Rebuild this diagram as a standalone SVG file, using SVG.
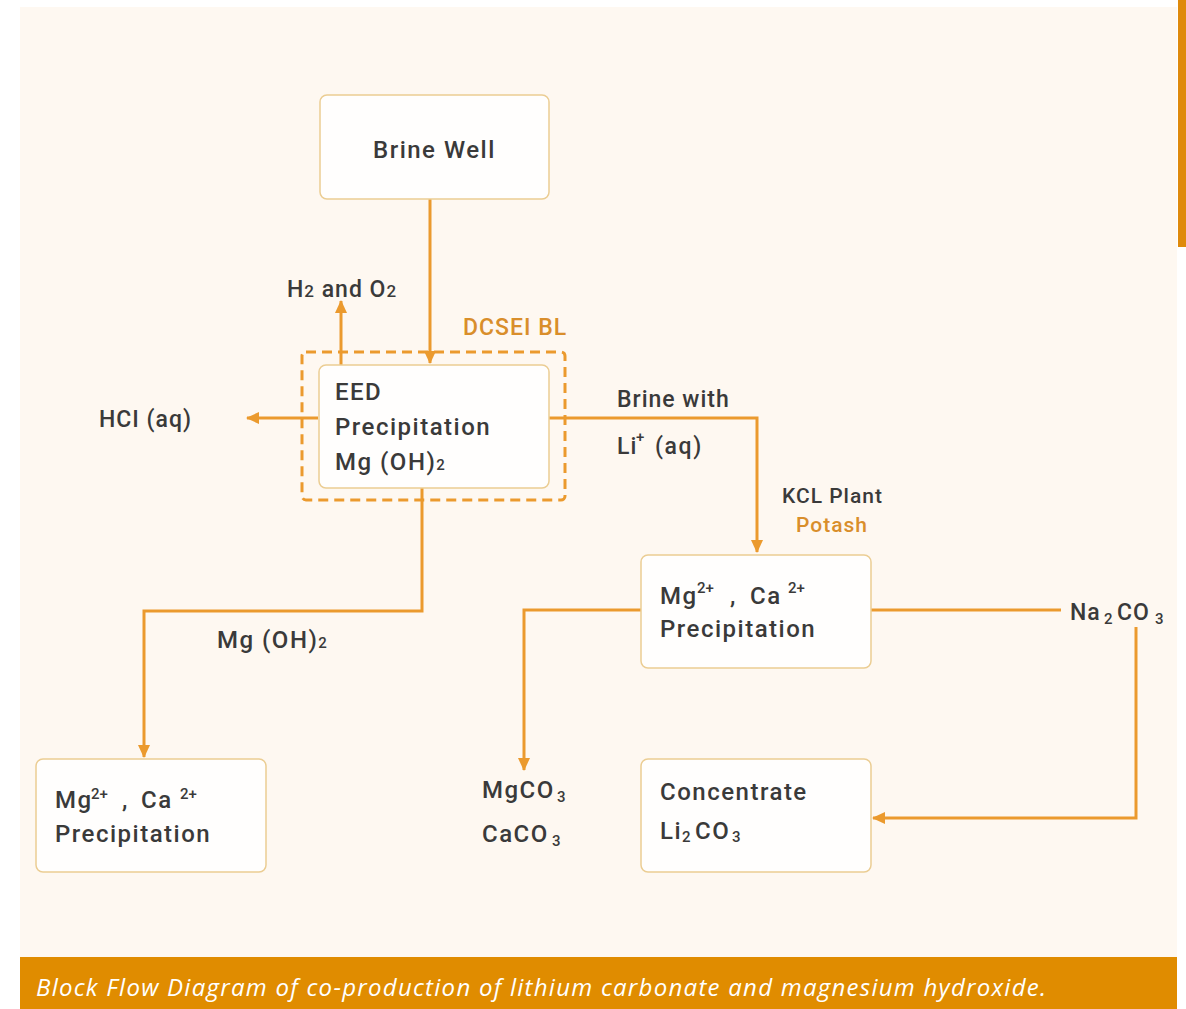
<svg xmlns="http://www.w3.org/2000/svg" width="1186" height="1009" viewBox="0 0 1186 1009">
<style>
.box{fill:#fffefd;stroke:#ebcd93;stroke-width:1.5}
.ln{fill:none;stroke:#eb9a2e;stroke-width:3}
.t{font-family:Roboto,"Liberation Sans",sans-serif;font-weight:500;font-size:24px;fill:#3a3a3a;letter-spacing:1.5px}
.l{font-family:Roboto,"Liberation Sans",sans-serif;font-weight:500;font-size:23px;fill:#3a3a3a;letter-spacing:1px}
.s{font-family:Roboto,"Liberation Sans",sans-serif;font-weight:500;font-size:21px;fill:#3a3a3a;letter-spacing:1px}
.sm{font-family:Roboto,"Liberation Sans",sans-serif;font-weight:500;font-size:15px;fill:#3a3a3a}
.o{fill:#d98e2b}
.cap{font-family:"Open Sans","Liberation Sans",sans-serif;font-style:italic;font-size:24px;fill:#ffffff}
</style>
<defs>
<marker id="ah" markerUnits="userSpaceOnUse" markerWidth="14" markerHeight="14" viewBox="0 0 14 14" refX="12" refY="7" orient="auto">
<path d="M0,1 L13,7 L0,13 Z" fill="#eb9a2e"/>
</marker>
</defs>
<rect x="0" y="0" width="1186" height="1009" fill="#ffffff"/>
<rect x="20" y="7" width="1157" height="950" fill="#fef8f1"/>
<rect x="1178" y="0" width="8" height="247" fill="#df8a0c"/>
<rect x="20" y="957" width="1157" height="52" fill="#e08c00"/>
<text class="cap" x="36" y="996" textLength="1010">Block Flow Diagram of co-production of lithium carbonate and magnesium hydroxide.</text>

<g id="connectors">
<path class="ln" d="M430,199 V363" marker-end="url(#ah)"/>
<path class="ln" d="M341,365 V301" marker-end="url(#ah)"/>
<path class="ln" d="M318,418 H247" marker-end="url(#ah)"/>
<path class="ln" d="M549,418 H757 V552" marker-end="url(#ah)"/>
<path class="ln" d="M422,488 V611 H144 V757" marker-end="url(#ah)"/>
<path class="ln" d="M641,610 H524 V770" marker-end="url(#ah)"/>
<path class="ln" d="M871,610 H1061"/>
<path class="ln" d="M1136,627 V818 H873" marker-end="url(#ah)"/>
</g>

<g id="brine-well">
<rect class="box" x="320" y="95" width="229" height="104" rx="7"/>
<text class="t" x="373" y="158">Brine Well</text>
</g>

<g id="dcsei-bl">
<rect x="302" y="352" width="263" height="148" rx="4" fill="none" stroke="#eb9a2e" stroke-width="3" stroke-dasharray="10 6"/>
<text class="l o" x="463" y="335">DCSEI BL</text>
</g>

<g id="eed">
<rect class="box" x="319" y="365" width="230" height="123" rx="7"/>
<text class="t" x="335" y="400">EED</text>
<text class="t" x="335" y="435">Precipitation</text>
<text class="t" x="335" y="470">Mg (OH)<tspan font-size="15px">2</tspan></text>
</g>

<g id="mid-precip">
<rect class="box" x="641" y="555" width="230" height="113" rx="7"/>
<text class="t" x="660" y="604">Mg</text>
<text class="sm" x="697" y="593">2+</text>
<text class="t" x="730" y="604">,</text>
<text class="t" x="750" y="604">Ca</text>
<text class="sm" x="788" y="593">2+</text>
<text class="t" x="660" y="637">Precipitation</text>
</g>

<g id="left-precip">
<rect class="box" x="36" y="759" width="230" height="113" rx="7"/>
<text class="t" x="55" y="808">Mg</text>
<text class="sm" x="91" y="799">2+</text>
<text class="t" x="122" y="808">,</text>
<text class="t" x="141" y="808">Ca</text>
<text class="sm" x="180" y="799">2+</text>
<text class="t" x="55" y="842">Precipitation</text>
</g>

<g id="concentrate">
<rect class="box" x="641" y="759" width="230" height="113" rx="7"/>
<text class="t" x="660" y="800">Concentrate</text>
<text class="t" x="660" y="839">Li</text>
<text class="sm" x="682" y="842" font-size="18px">2</text>
<text class="t" x="695" y="839">CO</text>
<text class="sm" x="732" y="842" font-size="18px">3</text>
</g>

<g id="labels">
<text class="l" x="287" y="297">H<tspan font-size="17px">2</tspan> and O<tspan font-size="17px">2</tspan></text>
<text class="l" x="99" y="427">HCI (aq)</text>
<text class="l" x="617" y="407">Brine with</text>
<text class="l" x="617" y="454">Li</text>
<text class="sm" x="636" y="442" font-size="13px">+</text>
<text class="l" x="655" y="454" style="letter-spacing:1.6px">(aq)</text>
<text class="s" x="782" y="503">KCL Plant</text>
<text class="s o" x="796" y="532">Potash</text>
<text class="l" x="1070" y="620">Na</text>
<text class="sm" x="1104" y="624" font-size="17px">2</text>
<text class="l" x="1117" y="620">CO</text>
<text class="sm" x="1155" y="624" font-size="17px">3</text>
<text class="t" x="217" y="648">Mg (OH)<tspan font-size="15px">2</tspan></text>
<text class="t" x="482" y="798">MgCO</text>
<text class="sm" x="557" y="802" font-size="17px">3</text>
<text class="t" x="482" y="842">CaCO</text>
<text class="sm" x="552" y="846" font-size="17px">3</text>
</g>
</svg>
